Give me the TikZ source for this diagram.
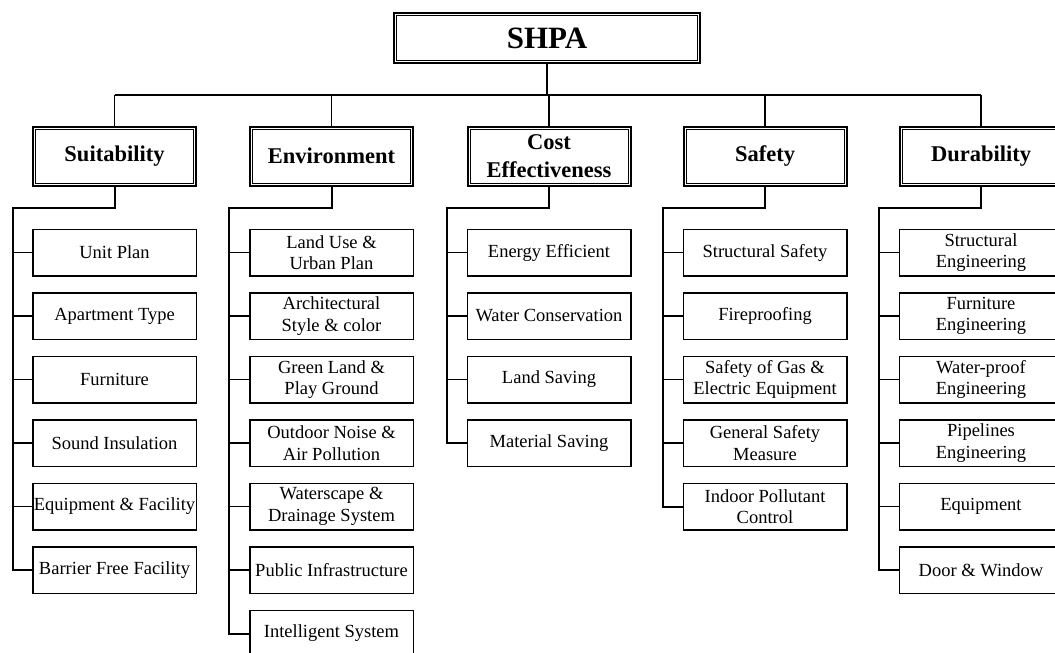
\documentclass[tikz,border=0pt]{standalone}
\usepackage{fontspec}
\setmainfont{Liberation Serif}
\begin{document}
\begin{tikzpicture}[x=1pt,y=-1pt,
  leaf/.style={draw, line width=1.5pt, minimum width=163.5pt, minimum height=46.5pt,
    inner sep=0pt, align=center, font=\fontsize{18.5}{21.5}\selectfont},
  catbox/.style={draw, line width=2pt, minimum width=163pt, minimum height=59pt,
    inner sep=0pt, align=center, font=\fontsize{22.5}{27.5}\selectfont\bfseries},
  topbox/.style={draw, line width=2pt, minimum width=306pt, minimum height=50pt,
    inner sep=0pt, font=\fontsize{31}{34}\selectfont\bfseries},
  innerframe/.style={line width=1pt},
  trunk/.style={line width=2pt},
  bar/.style={line width=1.5pt},
  drop/.style={line width=1.1pt},
  spine/.style={line width=2pt, line join=miter},
  twig/.style={line width=1.5pt}]
\useasboundingbox (0,0) rectangle (1055,653);
\clip (0,0) rectangle (1055,653);

% top node
\node[topbox] (top) at (547,38) {SHPA};
\draw[innerframe] ([shift={(3.5pt,3.5pt)}]top.south west) rectangle ([shift={(-3.5pt,-3.5pt)}]top.north east);

% categories
\node[catbox] (c1) at (114.5,156) {Suitability};
\node[catbox] (c2) at (331.5,156) {Environment};
\node[catbox] (c3) at (549,156) {Cost\\Effectiveness};
\node[catbox] (c4) at (765,156) {Safety};
\node[catbox] (c5) at (981,156) {Durability};
\foreach \c in {c1,c2,c3,c4,c5}{
  \draw[innerframe] ([shift={(3.5pt,3.5pt)}]\c.south west) rectangle ([shift={(-3.5pt,-3.5pt)}]\c.north east);
}

% connectors from top
\coordinate (barmid) at (547,95);
\draw[trunk] (top.south) -- (barmid);
\draw[bar] (c1.north |- barmid) -- (c5.north |- barmid);
\foreach \c in {c1,c2,c3,c4,c5}{
  \draw[drop] (\c.north |- barmid) -- (\c.north);
}

% spine coordinates
\coordinate (s1) at (12.5,207.5);
\coordinate (s2) at (229,207.5);
\coordinate (s3) at (447,207.5);
\coordinate (s4) at (662.5,207.5);
\coordinate (s5) at (878.5,207.5);

% leaves
\foreach \t [count=\i] in {{Unit Plan},{Apartment Type},{Furniture},{Sound Insulation},{Equipment \& Facility},{Barrier Free Facility}}{
  \node[leaf] (a\i) at (114.5,{252.5+63.5*(\i-1)}) {\t};
}
\foreach \t [count=\i] in {{Land Use \&\\Urban Plan},{Architectural\\Style \& color},{Green Land \&\\Play Ground},{Outdoor Noise \&\\Air Pollution},{Waterscape \&\\Drainage System},{Public Infrastructure},{Intelligent System}}{
  \node[leaf] (b\i) at (331.5,{252.5+63.5*(\i-1)}) {\t};
}
\foreach \t [count=\i] in {{Energy Efficient},{Water Conservation},{Land Saving},{Material Saving}}{
  \node[leaf] (d\i) at (549,{252.5+63.5*(\i-1)}) {\t};
}
\foreach \t [count=\i] in {{Structural Safety},{Fireproofing},{Safety of Gas \&\\Electric Equipment},{General Safety\\Measure},{Indoor Pollutant\\Control}}{
  \node[leaf] (e\i) at (765,{252.5+63.5*(\i-1)}) {\t};
}
\foreach \t [count=\i] in {{Structural\\Engineering},{Furniture\\Engineering},{Water-proof\\Engineering},{Pipelines\\Engineering},{Equipment},{Door \& Window}}{
  \node[leaf] (f\i) at (981,{252.5+63.5*(\i-1)}) {\t};
}

% spines
\draw[spine] (c1.south) |- (s1) |- (a6.west);
\draw[spine] (c2.south) |- (s2) |- (b7.west);
\draw[spine] (c3.south) |- (s3) |- (d4.west);
\draw[spine] (c4.south) |- (s4) |- (e5.west);
\draw[spine] (c5.south) |- (s5) |- (f6.west);

% twigs
\foreach \i in {1,...,5}{ \draw[twig] (s1 |- a\i.west) -- (a\i.west); }
\foreach \i in {1,...,6}{ \draw[twig] (s2 |- b\i.west) -- (b\i.west); }
\foreach \i in {1,...,3}{ \draw[twig] (s3 |- d\i.west) -- (d\i.west); }
\foreach \i in {1,...,4}{ \draw[twig] (s4 |- e\i.west) -- (e\i.west); }
\foreach \i in {1,...,5}{ \draw[twig] (s5 |- f\i.west) -- (f\i.west); }
\end{tikzpicture}
\end{document}
